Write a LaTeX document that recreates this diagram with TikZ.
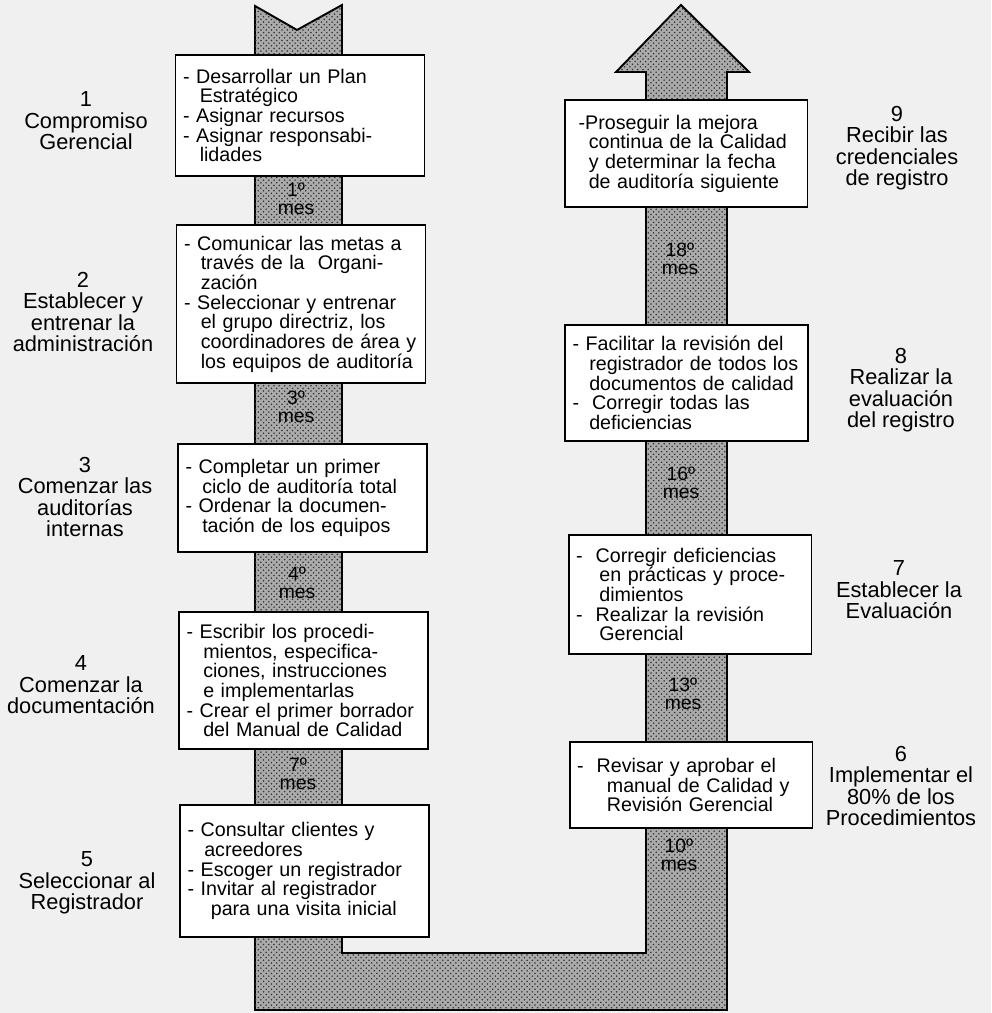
\documentclass[tikz,border=0pt]{standalone}
\usepackage{fontspec}
\setmainfont{Liberation Sans}
\usetikzlibrary{patterns}
\newcommand{\sg}{\hspace*{0.85em}}

\begin{document}
\begin{tikzpicture}[x=0.02cm,y=-0.02cm,line join=miter,
  flecha/.style={line width=1.1pt,fill=black!33,postaction={pattern=crosshatch dots,pattern color=black!80}},
  tarea/.style={draw,line width=1.1pt,fill=white,align=left,inner xsep=0.15cm,inner ysep=0pt,font=\fontsize{11.2}{11.2}\selectfont},
  tareaizq/.style={tarea,text width=4.68cm},
  tareader/.style={tarea,text width=4.56cm},
  etapa/.style={align=center,font=\fontsize{12.4}{12.2}\selectfont},
  plazo/.style={align=center,inner sep=0pt,font=\fontsize{11}{10.6}\selectfont}]
  \useasboundingbox[fill=black!6] (0,0) rectangle (991,1013);
  \draw[flecha] (255,6) -- (255,1010) -- (727,1010) -- (727,72) -- (749,72) -- (681,5)
    -- (616,72) -- (646,72) -- (646,953) -- (342,953) -- (342,5) -- (297,30) -- cycle;
  \node[tareaizq,minimum height=2.42cm] (p1) at (300,115.5)
    {- Desarrollar un Plan\\\sg Estratégico\\- Asignar recursos\\- Asignar responsabi-\\\sg lidades};
  \node[tareaizq,minimum height=3.16cm] (p2) at (301,304)
    {- Comunicar las metas a\\\sg través de la\ \ Organi-\\\sg zación\\- Seleccionar y entrenar\\\sg el grupo directriz, los\\\sg coordinadores de área~y\\\sg los equipos de auditoría};
  \node[tareaizq,minimum height=2.16cm] (p3) at (302.5,498)
    {- Completar un primer\\\sg ciclo de auditoría total\\- Ordenar la documen-\\\sg tación de los equipos};
  \node[tareaizq,minimum height=2.74cm] (p4) at (303.5,680.5)
    {- Escribir los procedi-\\\sg mientos, especifica-\\\sg ciones, instrucciones\\\sg e implementarlas\\- Crear el primer borrador\\\sg del Manual de Calidad};
  \node[tareaizq,minimum height=2.64cm] (p5) at (304.5,871)
    {- Consultar clientes y\\\sg acreedores\\- Escoger un registrador\\- Invitar al registrador\\\sg\ para una visita inicial};
  \node[tareader,minimum height=1.72cm] (p6) at (691,785)
    {-\ \ Revisar y aprobar el\\\sg\ \ manual de Calidad y\\\sg\ \ Revisión Gerencial};
  \node[tareader,minimum height=2.38cm] (p7) at (690,594.5)
    {-\ \ Corregir deficiencias\\\sg\ en prácticas y proce-\\\sg\ dimientos\\-\ \ Realizar la revisión\\\sg\ Gerencial};
  \node[tareader,minimum height=2.32cm] (p8) at (686.5,383)
    {- Facilitar la revisión del\\\sg registrador de todos los\\\sg documentos de calidad\\-\ \ Corregir todas las\\\sg deficiencias};
  \node[tareader,minimum height=2.14cm] (p9) at (686,153.5)
    {\ -Proseguir la mejora\\\sg continua de la Calidad\\\sg y determinar la fecha\\\sg de auditoría siguiente};
  \node[etapa] (e1) at (86,121) {1\\Compromiso\\Gerencial};
  \node[etapa] (e2) at (83,312) {2\\Establecer y\\entrenar la\\administración};
  \node[etapa] (e3) at (85,497) {3\\Comenzar las\\auditorías\\internas};
  \node[etapa] (e4) at (81,685) {4\\Comenzar la\\documentación};
  \node[etapa] (e5) at (87,883) {5\\Seleccionar al\\Registrador};
  \node[etapa] (e6) at (901,786) {6\\Implementar el\\80\% de los\\Procedimientos};
  \node[etapa] (e7) at (899,590) {7\\Establecer la\\Evaluación};
  \node[etapa] (e8) at (901,390) {8\\Realizar la\\evaluación\\del registro};
  \node[etapa] (e9) at (897,148) {9\\Recibir las\\credenciales\\de registro};
  \node[plazo] (m1) at (296,199) {1º\\mes};
  \node[plazo] (m2) at (296,407) {3º\\mes};
  \node[plazo] (m3) at (297,583) {4º\\mes};
  \node[plazo] (m4) at (298,774) {7º\\mes};
  \node[plazo] (m5) at (679,855) {10º\\mes};
  \node[plazo] (m6) at (683,694) {13º\\mes};
  \node[plazo] (m7) at (681,483) {16º\\mes};
  \node[plazo] (m8) at (680,259) {18º\\mes};
\end{tikzpicture}
\end{document}
